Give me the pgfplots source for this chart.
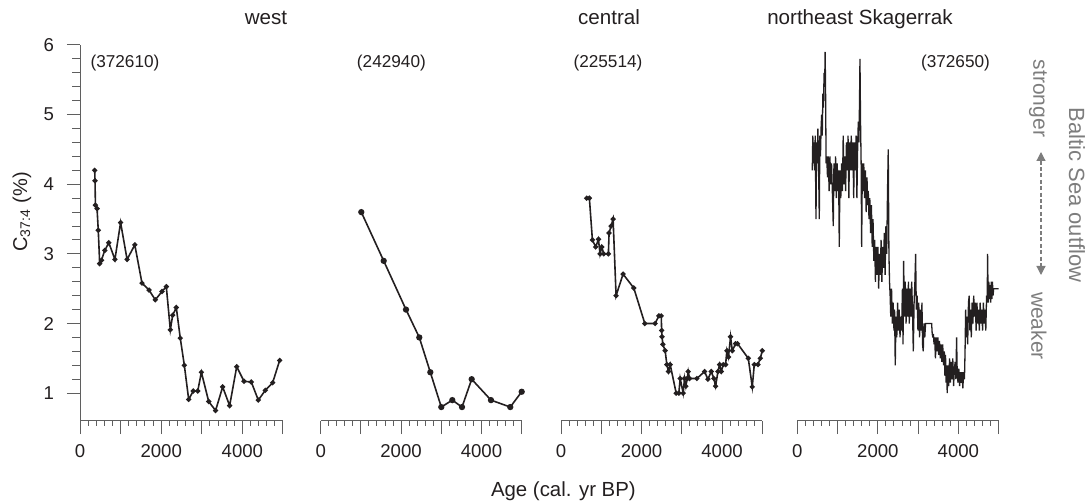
\documentclass[border=0pt]{standalone}
\usepackage{pgfplots}
\pgfplotsset{compat=1.18}
\usepackage{fontspec}
\setmainfont{Liberation Sans}
\usetikzlibrary{arrows.meta}
\definecolor{txt}{RGB}{35,31,32}
\definecolor{axc}{RGB}{95,95,95}
\definecolor{grayl}{RGB}{125,125,125}
\pgfplotsset{
  panel/.style={
    scale only axis, height=188pt, anchor=south west,
    xmin=0, xmax=5000, ymin=0.6, ymax=6,
    axis x line=bottom, axis y line=none, ytick=\empty,
    axis line style={-, axc, line width=0.5pt},
    xtick={0,1000,...,5000}, xticklabels={0,,2000,,4000,},
    minor x tick num=4,
    tick align=outside,
    major tick length=6.5pt, minor tick length=2.5pt,
    every tick/.style={axc, line width=0.5pt},
    xticklabel style={font=\fontsize{9.3}{11}\selectfont, text=txt, yshift=-1.5pt},
    clip=true,
  },
  dat/.style={txt, line width=0.8pt, mark=*, mark size=0.85pt, mark options={solid, fill=txt}},
}
\begin{document}
\begin{tikzpicture}
\useasboundingbox (0,0) rectangle (544.5pt,252pt);
% panel 1
\begin{axis}[panel, width=101.5pt, at={(40pt,41.5pt)}]
\addplot[dat] coordinates {
(362,4.20) (370,4.05) (380,3.70) (420,3.65) (450,3.34) (485,2.86) (530,2.91) (610,3.05) (710,3.16) (860,2.92) (1000,3.45) (1160,2.92) (1350,3.13)
(1527,2.58) (1700,2.48) (1855,2.34) (2020,2.46) (2126,2.53) (2225,1.91) (2283,2.12) (2372,2.23) (2470,1.79) (2570,1.40) (2677,0.91) (2790,1.03) (2900,1.03) (2990,1.30) (3170,0.88) (3340,0.75) (3514,1.09) (3686,0.82) (3860,1.38) (4040,1.17) (4220,1.16) (4392,0.90) (4564,1.04) (4745,1.15) (4918,1.47)
};
\end{axis}
\begin{axis}[scale only axis, width=101.5pt, height=188pt, at={(40pt,41.5pt)}, anchor=south west,
  xmin=0, xmax=5000, ymin=0.6, ymax=6, axis x line=none, axis y line=left, xtick=\empty,
  axis line style={-, axc, line width=0.5pt},
  ytick={1,2,3,4,5,6}, yticklabels={1,2,3,4,5,6}, minor y tick num=4,
  tick align=outside, major tick length=6.5pt, minor tick length=4pt,
  every tick/.style={axc, line width=0.5pt},
  yticklabel style={font=\fontsize{9.3}{11}\selectfont, text=txt, xshift=-3pt}]
\end{axis}
% panel 2
\begin{axis}[panel, width=100.5pt, at={(160.35pt,41.5pt)}]
\addplot[dat, mark size=1.15pt] coordinates {
(1010,3.60) (1567,2.90) (2122,2.20) (2453,1.80) (2727,1.30) (3000,0.80) (3274,0.90) (3515,0.80) (3756,1.20) (4236,0.90) (4716,0.80) (5000,1.02)
};
\end{axis}
% panel 3
\begin{axis}[panel, width=100.65pt, at={(280.5pt,41.5pt)}]
\addplot[dat] coordinates {
(638,3.80) (705,3.80) (780,3.20) (862,3.10) (930,3.21) (970,3.00) (1012,3.10) (1062,3.00) (1177,3.00) (1194,3.30) (1244,3.40) (1294,3.50) (1368,2.40) (1542,2.71) (1808,2.51) (2082,2.00) (2338,2.00) (2430,2.11) (2490,2.11) (2500,1.90) (2510,1.81) (2530,1.70) (2587,1.61) (2629,1.41) (2670,1.31) (2712,1.41) (2861,1.00) (2927,1.00) (2960,1.21) (3035,1.00) (3068,1.21) (3101,1.10) (3135,1.21) (3160,1.31) (3193,1.21) (3375,1.21) (3566,1.31) (3649,1.20) (3732,1.31) (3798,1.21) (3840,1.10) (3898,1.31) (3939,1.41) (3980,1.31) (4030,1.41) (4088,1.41) (4121,1.61) (4160,1.52) (4212,1.81) (4254,1.61) (4337,1.71) (4386,1.71) (4652,1.50) (4751,1.09) (4801,1.41) (4892,1.41) (4950,1.50) (5000,1.61)
};
\end{axis}
% panel 4
\begin{axis}[panel, width=100.7pt, at={(398.65pt,41.5pt)}]
\addplot[txt, line width=0.65pt, line join=miter, miter limit=3] table {
372 4.2
385 4.7
400 4.3
415 4.6
430 4.2
445 4.7
464 3.5
480 4.6
495 4.3
510 4.8
525 4.4
546 3.5
560 4.7
575 4.4
590 4.8
605 5.0
620 4.7
635 5.3
650 5.1
665 5.6
680 5.4
690 5.9
700 5.5
715 4.3
730 4.4
750 4.1
770 4.4
790 3.9
810 4.4
830 4.0
850 4.3
870 3.9
893 3.4
910 4.3
930 3.9
950 4.4
970 3.8
990 4.3
1010 3.9
1025 4.2
1042 3.1
1060 4.2
1080 3.8
1100 4.3
1120 3.9
1140 4.7
1160 4.0
1180 4.4
1200 3.9
1220 4.6
1240 4.2
1260 4.7
1280 3.8
1300 4.6
1320 4.2
1340 4.7
1360 4.2
1380 4.6
1400 3.8
1420 4.6
1440 4.2
1460 4.7
1480 3.8
1500 4.6
1515 4.9
1530 4.6
1545 5.2
1556 5.8
1570 4.9
1585 4.3
1598 3.1
1615 4.3
1630 3.9
1650 4.3
1670 3.8
1690 4.2
1710 3.6
1730 4.1
1750 3.7
1762 3.9
1780 3.5
1800 3.8
1820 3.3
1840 3.7
1860 3.1
1880 3.5
1900 2.9
1920 3.2
1940 2.6
1960 3.1
1980 2.7
2000 3.1
2020 2.5
2040 3.0
2060 2.7
2080 3.2
2100 2.6
2120 3.1
2140 2.8
2160 3.3
2180 2.7
2200 3.4
2220 3.0
2240 3.9
2258 4.5
2275 3.0
2290 2.6
2305 2.4
2320 2.1
2340 2.5
2360 2.0
2380 2.3
2400 1.9
2415 2.2
2432 1.4
2450 2.1
2470 1.8
2490 2.3
2510 1.9
2530 2.2
2550 1.8
2570 2.1
2590 1.9
2610 2.5
2625 1.7
2640 2.9
2660 2.1
2680 2.6
2700 2.0
2720 2.5
2740 2.1
2760 2.6
2780 2.0
2800 2.5
2820 2.1
2840 2.6
2860 2.2
2880 1.6
2900 2.3
2920 2.6
2938 3.0
2955 2.2
2975 2.4
2995 1.9
3015 2.3
3035 1.8
3055 2.2
3075 1.9
3095 2.3
3110 1.7
3127 1.6
3145 2.0
3165 1.8
3185 2.0
3210 2.0
3335 2.0
3350 1.85
3365 1.8
3380 1.85
3395 1.7
3410 1.8
3430 1.5
3450 1.8
3470 1.6
3490 1.8
3510 1.55
3530 1.75
3550 1.5
3570 1.7
3590 1.45
3610 1.7
3630 1.4
3650 1.6
3665 1.25
3680 1.55
3695 1.15
3708 1.4
3722 1.0
3740 1.4
3760 1.1
3780 1.5
3800 1.15
3820 1.45
3840 1.2
3860 1.5
3880 1.1
3900 1.35
3920 1.45
3937 1.2
3955 1.8
3970 1.3
3990 1.15
4010 1.35
4030 1.1
4050 1.3
4070 1.15
4090 1.3
4110 1.07
4130 1.3
4150 1.2
4165 1.6
4180 2.2
4195 1.8
4210 2.1
4230 1.7
4250 2.3
4268 2.4
4285 1.9
4300 2.2
4320 1.8
4340 2.3
4360 2.0
4380 2.4
4400 2.1
4420 2.3
4440 1.9
4460 2.3
4480 2.0
4500 2.2
4520 1.9
4540 2.3
4560 2.0
4580 2.2
4600 1.9
4620 2.3
4640 2.0
4660 2.2
4680 1.9
4700 2.4
4715 2.3
4724 3.0
4740 2.3
4755 2.6
4770 2.35
4785 2.55
4800 2.3
4815 2.6
4830 2.35
4845 2.6
4860 2.4
4875 2.5
4900 2.5
5010 2.5
};
\end{axis}
% texts
\begin{scope}[text=txt]
\node[anchor=base, font=\fontsize{10.3}{12}\selectfont] at (133pt,239.5pt) {west};
\node[anchor=base, font=\fontsize{10.3}{12}\selectfont] at (304.5pt,239.5pt) {central};
\node[anchor=base, font=\fontsize{10.3}{12}\selectfont] at (430pt,239.5pt) {northeast Skagerrak};
\node[anchor=base, font=\fontsize{8.6}{10}\selectfont] at (62.5pt,218pt) {(372610)};
\node[anchor=base, font=\fontsize{8.6}{10}\selectfont] at (195.7pt,218pt) {(242940)};
\node[anchor=base, font=\fontsize{8.6}{10}\selectfont] at (304pt,218pt) {(225514)};
\node[anchor=base, font=\fontsize{8.6}{10}\selectfont] at (477.75pt,218pt) {(372650)};
\node[anchor=base, font=\fontsize{10.2}{12}\selectfont] at (281.7pt,3.5pt) {Age (cal. yr BP)};
\node[rotate=90, font=\fontsize{10}{12}\selectfont] at (11pt,146pt) {C\textsubscript{37:4} (\%)};
\end{scope}
\begin{scope}[text=grayl]
\node[rotate=-90, font=\fontsize{10.5}{12}\selectfont] at (519pt,202.75pt) {stronger};
\node[rotate=-90, font=\fontsize{10.5}{12}\selectfont] at (519.5pt,89pt) {weaker};
\node[rotate=-90, font=\fontsize{11}{12}\selectfont] at (538.5pt,154.5pt) {Baltic Sea outflow};
\draw[grayl, line width=0.6pt, dash pattern=on 2pt off 1.2pt, {Triangle[width=4.5pt,length=4.5pt]}-{Triangle[width=4.5pt,length=4.5pt]}] (520.5pt,176pt) -- (520.5pt,114.5pt);
\end{scope}
\end{tikzpicture}
\end{document}
